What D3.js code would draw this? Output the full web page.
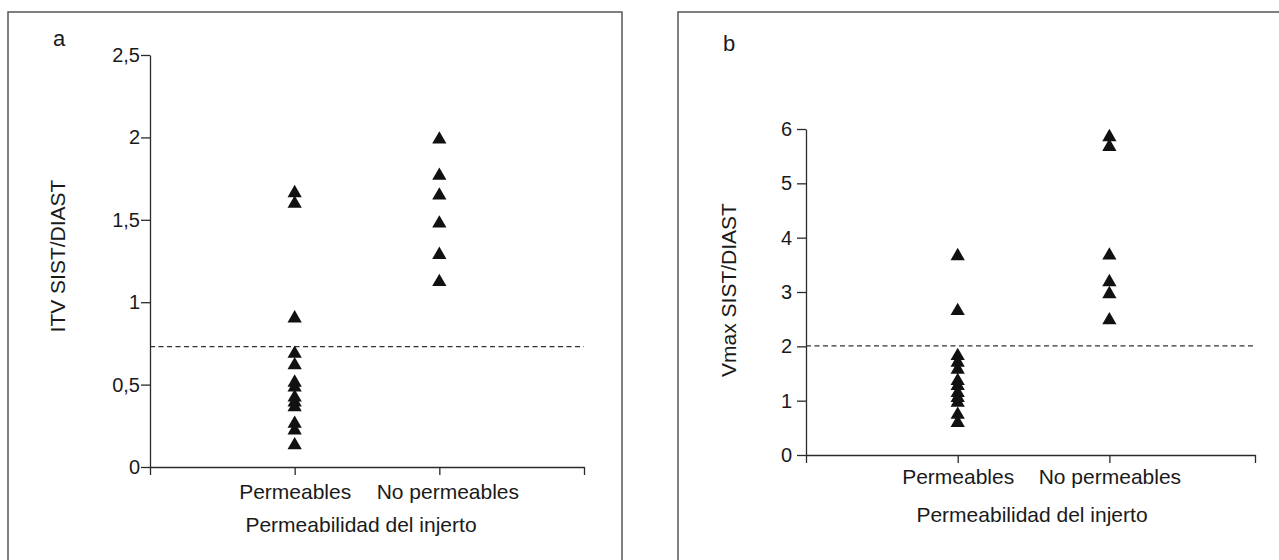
<!DOCTYPE html>
<html lang="es">
<head>
<meta charset="UTF-8">
<title>ITV / Vmax SIST/DIAST</title>
<script src="https://d3js.org/d3.v7.min.js"></script>
<style>
  body { margin: 0; background: #fff; font-family: "Liberation Sans", Arial, sans-serif; }
  .axis text { font-family: "Liberation Sans", Arial, sans-serif; font-size: 20px; fill: #1a1a1a; }
  .axis.x text { font-size: 21px; }
  .axis path, .axis line { stroke: #2a2a2a; stroke-width: 1.3; }
  .title { font-size: 21px; fill: #1a1a1a; }
  .letter { font-size: 22px; fill: #1a1a1a; }
  .frame { fill: none; stroke: #555; stroke-width: 1.5; }
  .cutoff { stroke: #333; stroke-width: 1.2; stroke-dasharray: 5,3.5; }
</style>
</head>
<body>
<div id="chart"></div>
<script>
  // data
  const categories = ["Permeables", "No permeables"];
  const itvPermeables = [1.675, 1.61, 0.915, 0.70, 0.63, 0.525, 0.495, 0.435, 0.405, 0.375, 0.275, 0.235, 0.145];
  const itvNoPermeables = [2.0, 1.78, 1.66, 1.49, 1.30, 1.135];
  const vmaxPermeables = [3.70, 2.69, 1.86, 1.74, 1.61, 1.40, 1.31, 1.18, 1.09, 1.00, 0.78, 0.63];
  const vmaxNoPermeables = [5.89, 5.71, 3.71, 3.22, 3.0, 2.52];
  const itvTicks = [0, 0.5, 1, 1.5, 2, 2.5];
  const vmaxTicks = [0, 1, 2, 3, 4, 5, 6];
  const itvCutoff = 0.73;
  const vmaxCutoff = 2.01;

  const W = 1279, H = 560;
  const es = d3.formatLocale({decimal: ",", thousands: ".", grouping: [3], currency: ["", " €"]});
  const fmt = es.format("~g");

  // triangle centred on its bounding box, like the original plotting program
  const triangle = {
    draw(ctx, size) {
      const s = Math.sqrt(size * 4 / Math.sqrt(3));
      const h = s * Math.sqrt(3) / 2;
      ctx.moveTo(0, -h / 2);
      ctx.lineTo(s / 2, h / 2);
      ctx.lineTo(-s / 2, h / 2);
      ctx.closePath();
    }
  };

  const svg = d3.select('#chart').append('svg')
    .attr('width', W)
    .attr('height', H);

  const panels = [
    { letter: "a", frame: [8, 12, 614, 600], letterPos: [53, 46],
      left: 150, right: 584, top: 55, bottom: 467, xMax: 3,
      yMax: 2.5, ticks: itvTicks, tickPad: 1, labelDx: [0, 8],
      ylabel: "ITV SIST/DIAST", ylabelX: 65, ylabelY: 256,
      catBaseline: 499, titleBaseline: 532, titleX: 361,
      series: [itvPermeables, itvNoPermeables], cutoff: itvCutoff },
    { letter: "b", frame: [678, 12, 700, 600], letterPos: [723, 51],
      left: 806, right: 1255, top: 129, bottom: 455, xMax: 2.96,
      yMax: 6, ticks: vmaxTicks, tickPad: 5, labelDx: [0, 0],
      ylabel: "Vmax SIST/DIAST", ylabelX: 736, ylabelY: 290,
      catBaseline: 484, titleBaseline: 522, titleX: 1032,
      series: [vmaxPermeables, vmaxNoPermeables], cutoff: vmaxCutoff }
  ];

  panels.forEach(p => {
    const g = svg.append('g');

    g.append('rect')
      .attr('class', 'frame')
      .attr('x', p.frame[0]).attr('y', p.frame[1])
      .attr('width', p.frame[2]).attr('height', p.frame[3]);

    g.append('text')
      .attr('class', 'letter')
      .attr('x', p.letterPos[0]).attr('y', p.letterPos[1])
      .text(p.letter);

    const x = d3.scaleLinear().domain([0, p.xMax]).range([p.left, p.right]);
    const y = d3.scaleLinear().domain([0, p.yMax]).range([p.bottom, p.top]);

    // x axis: blank ticks at the ends, one per category in between
    const xTickVals = [0, 1, 2, p.xMax];
    const xAxis = g.append('g')
      .attr('class', 'axis x')
      .attr('transform', `translate(0,${p.bottom})`)
      .call(d3.axisBottom(x)
        .tickValues(xTickVals)
        .tickSize(8)
        .tickSizeOuter(0)
        .tickFormat((d, i) => (i >= 1 && i <= categories.length) ? categories[i - 1] : ""));
    xAxis.selectAll('.tick text')
      .attr('y', 0)
      .attr('dy', 0)
      .attr('transform', `translate(0,${p.catBaseline - p.bottom})`)
      .attr('dx', (d, i) => (i >= 1 && i <= categories.length) ? p.labelDx[i - 1] : 0);

    g.append('g')
      .attr('class', 'axis')
      .attr('transform', `translate(${p.left},0)`)
      .call(d3.axisLeft(y)
        .tickValues(p.ticks)
        .tickSize(9)
        .tickSizeOuter(0)
        .tickPadding(p.tickPad)
        .tickFormat(fmt));

    // cut-off line
    g.append('line')
      .attr('class', 'cutoff')
      .attr('x1', x(0)).attr('x2', x(p.xMax))
      .attr('y1', y(p.cutoff)).attr('y2', y(p.cutoff));

    // points
    const sym = d3.symbol().type(triangle).size(88);
    p.series.forEach((vals, ci) => {
      g.selectAll(null)
        .data(vals)
        .enter()
        .append('path')
        .attr('d', sym)
        .attr('fill', '#111')
        .attr('transform', d => `translate(${x(ci + 1)},${y(d)})`);
    });

    g.append('text')
      .attr('class', 'title')
      .attr('text-anchor', 'middle')
      .attr('x', p.titleX).attr('y', p.titleBaseline)
      .text("Permeabilidad del injerto");

    g.append('text')
      .attr('class', 'title')
      .attr('text-anchor', 'middle')
      .attr('transform', `translate(${p.ylabelX},${p.ylabelY}) rotate(-90)`)
      .text(p.ylabel);
  });
</script>
</body>
</html>
